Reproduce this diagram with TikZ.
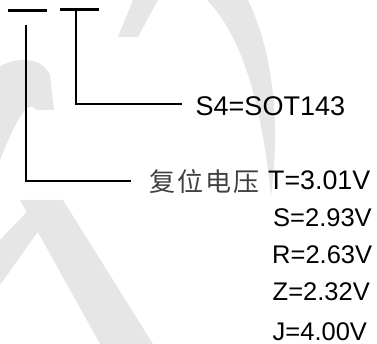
\documentclass[tikz,border=0pt]{standalone}
\usepackage{fontspec}
\setmainfont{Liberation Sans}
\newfontfamily\cjk{Noto Sans CJK SC}
\definecolor{wm}{RGB}{230,230,230}
\begin{document}
\begin{tikzpicture}[x=1pt,y=-1pt,
  bar/.style={line width=3pt},
  lead/.style={line width=2pt},
  lbl/.style={inner sep=0pt, anchor=base west, font=\fontsize{25.5}{30}\selectfont}]
\useasboundingbox (0,0) rectangle (377,344);
% watermark
\fill[wm] (207,0) .. controls (245,40) and (262,110) .. (271,196) .. controls (281,120) and (272,50) .. (248,0) -- cycle;
\fill[wm] (133,0) -- (158,0) -- (138,37) -- (118,37) -- cycle;
\fill[wm] (0,66) .. controls (20,56) and (42,58) .. (50,75) -- (54,110) -- (36,110) .. controls (30,100) and (20,110) .. (0,160) -- cycle;
\fill[wm] (20,200) -- (63,200) -- (153,344) -- (100,344) -- cycle;
\fill[wm] (0,240) -- (38,200) -- (52,212) -- (0,285) -- cycle;
% bars
\coordinate (b1l) at (8,11);
\coordinate (b1r) at (47,11);
\coordinate (b2l) at (60,10);
\coordinate (b2r) at (99,10);
\draw[bar] (b1l) -- (b1r);
\draw[bar] (b2l) -- (b2r);
% labels
\node[lbl, font=\fontsize{27}{30}\selectfont] (s4) at (195.5,115.5) {S4=SOT143};
\node[lbl, font={\cjk\fontsize{26}{30}\selectfont}, text=black!75] (cn) at (149,191.5) {复\kern2pt位\kern2pt电\kern2pt压};
\node[lbl, font=\fontsize{26.8}{30}\selectfont] (t) at (268,189.5) {T=3.01V};
\node[lbl] (s) at (273,226.5) {S=2.93V};
\node[lbl] (r) at (272,263.5) {R=2.63V};
\node[lbl] (z) at (272.5,300.5) {Z=2.32V};
\node[lbl] (j) at (272.5,340) {J=4.00V};
% leads
\coordinate (v1top) at (26,25);
\coordinate (e1) at (131,181);
\coordinate (v2top) at (76,10);
\coordinate (e2) at (182,104.5);
\draw[lead] (v1top) |- (e1);
\draw[lead] (v2top) |- (e2);
\end{tikzpicture}
\end{document}
